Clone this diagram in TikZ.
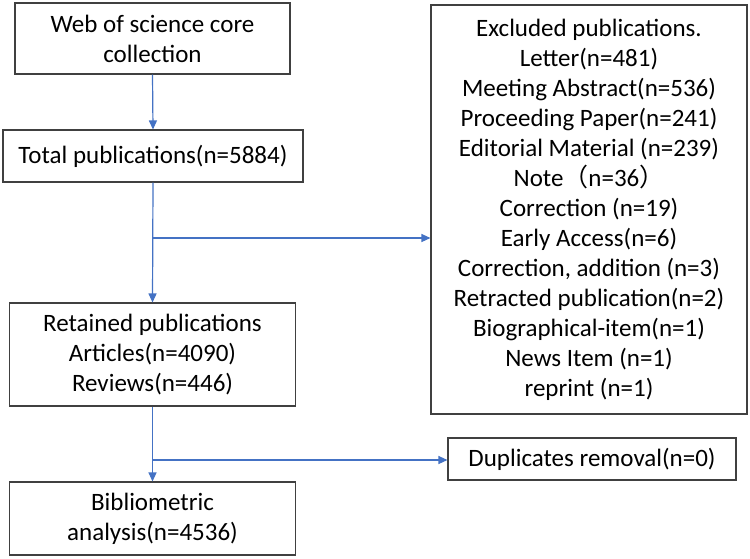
\documentclass[tikz,border=0pt]{standalone}
\usepackage{fontspec}
\setmainfont{Carlito}
\newfontfamily\cjk{Noto Sans CJK SC}
\usetikzlibrary{arrows.meta}
\definecolor{flowblue}{HTML}{4472C4}
\definecolor{boxgray}{HTML}{404040}
\begin{document}
\begin{tikzpicture}[x=1pt,y=-1pt,
  box/.style={draw=boxgray,line width=1.1pt,fill=white,inner sep=0pt,align=center,
    font=\fontsize{25}{30}\selectfont},
  flow/.style={draw=flowblue,line width=1.2pt},
  arr/.style={flow,-{Triangle[length=9pt,width=8pt]}}]
\useasboundingbox (0,0) rectangle (750,558);
\fill[white] (0,0) rectangle (750,558);
\node[box,minimum width=275pt,minimum height=71pt] (wos) at (152.5,38.5) {Web of science core\\collection};
\node[box,minimum width=300pt,minimum height=52pt] (tot) at (153,156) {Total publications(n=5884)};
\node[box,minimum width=286pt,minimum height=103pt] (ret) at (152.5,354.5) {Retained publications\\Articles(n=4090)\\Reviews(n=446)};
\node[box,minimum width=286pt,minimum height=73pt] (bib) at (152.5,518.5) {Bibliometric\\analysis(n=4536)};
\node[box,minimum width=316pt,minimum height=409pt] (exc) at (589,209.5) {Excluded publications.\\Letter(n=481)\\Meeting Abstract(n=536)\\Proceeding Paper(n=241)\\Editorial Material (n=239)\\Note{\cjk（}n=36{\cjk）}\\Correction (n=19)\\Early Access(n=6)\\Correction, addition (n=3)\\Retracted publication(n=2)\\Biographical-item(n=1)\\News Item (n=1)\\reprint (n=1)};
\node[box,minimum width=288pt,minimum height=42pt] (dup) at (592,459) {Duplicates removal(n=0)};
\coordinate (b1) at (152.5,238);
\coordinate (b2) at (152.5,460);
\draw[arr] (wos.south) -- (tot.north);
\draw[arr] (tot.south) -- (ret.north);
\draw[arr] (b1) -- (b1 -| exc.west);
\draw[arr] (ret.south) -- (bib.north);
\draw[arr] (b2) -- (b2 -| dup.west);
\end{tikzpicture}
\end{document}
